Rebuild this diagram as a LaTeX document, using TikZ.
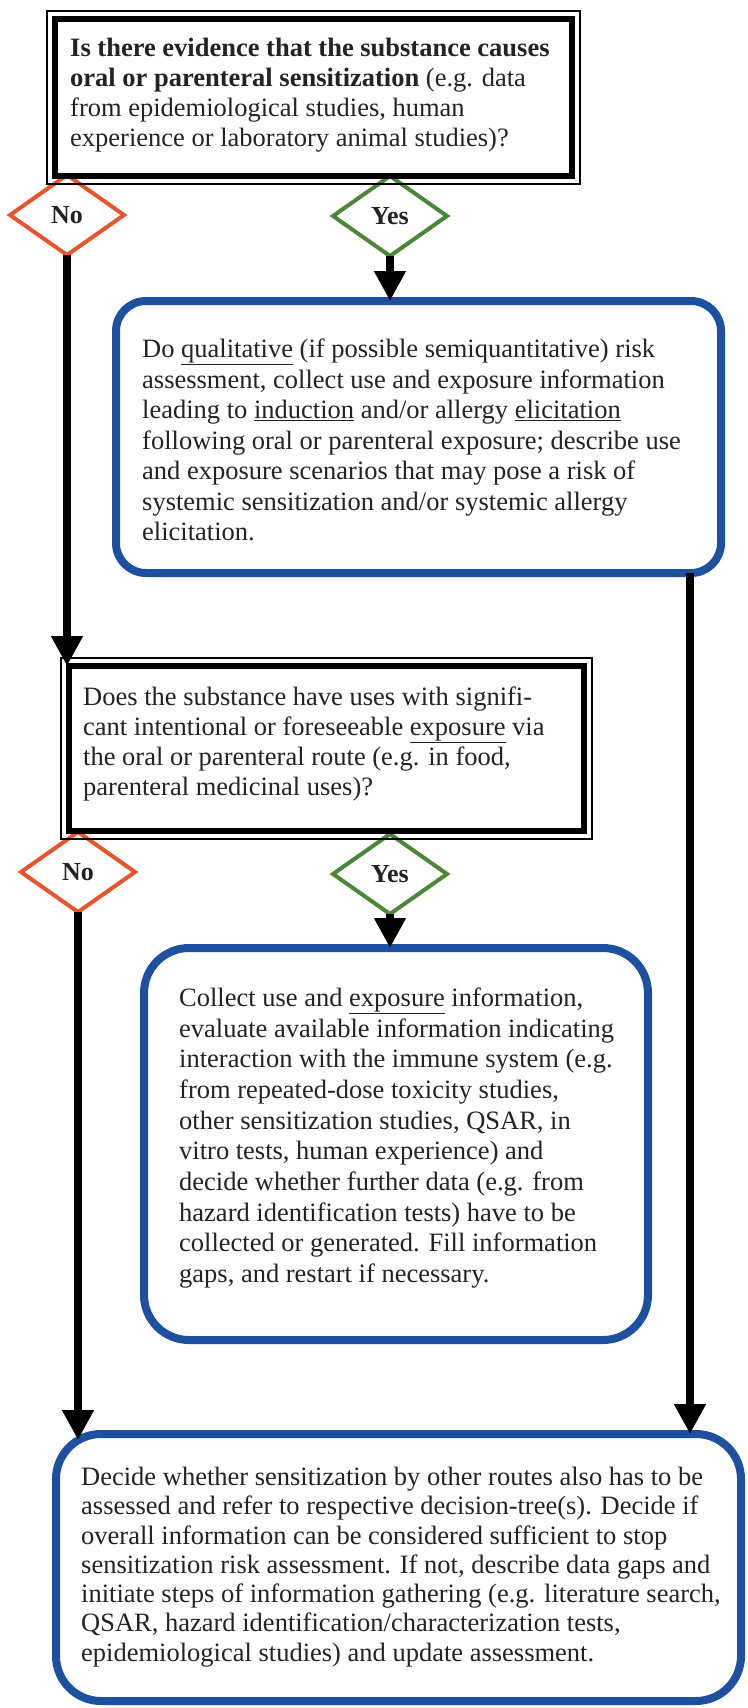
\documentclass[tikz,border=0pt]{standalone}
\usepackage{fontspec}
\setmainfont{Liberation Serif}
\usetikzlibrary{shapes.geometric,arrows.meta}
\definecolor{boxblue}{RGB}{30,80,160}
\definecolor{nored}{RGB}{230,85,45}
\definecolor{yesgreen}{RGB}{75,135,55}
\definecolor{txtcol}{RGB}{35,35,35}
\tikzset{
  qbox/.style={draw=black, line width=6pt, fill=white, inner sep=0pt, outer sep=0pt},
  abox/.style={draw=boxblue, line width=8pt, rounded corners=#1, fill=white, inner sep=0pt, outer sep=0pt},
  dia/.style={diamond, draw=#1, line width=4pt, fill=white, minimum width=114pt, minimum height=80pt, inner sep=0pt, outer sep=0pt, font=\fontsize{26}{30}\selectfont\bfseries, text=txtcol},
  conn/.style={draw=black, line width=8pt},
  arr/.style={conn, -{Triangle[width=30pt,length=30pt]}},
  txt/.style={anchor=west, align=left, inner sep=0pt, text=txtcol, font=\fontsize{26.5}{#1}\selectfont},
  frame/.style={draw=black, line width=1.5pt}
}
\begin{document}
\begin{tikzpicture}[x=1pt,y=1pt]
\useasboundingbox (0,0) rectangle (747,-1708);
\fill[white] (0,0) rectangle (747,-1708);

% diamonds
\node[dia=nored] (no1) at (67,-215) {No};
\node[dia=yesgreen] (yes1) at (390,-216) {Yes};
\node[dia=nored] (no2) at (78,-872) {No};
\node[dia=yesgreen] (yes2) at (390,-874) {Yes};

% question boxes
\node[qbox, minimum width=517pt, minimum height=157pt] (q1) at (313.5,-97.5) {};
\draw[frame] ([shift={(-8pt,8pt)}]q1.north west) rectangle ([shift={(8pt,-8pt)}]q1.south east);
\node[qbox, minimum width=515pt, minimum height=165pt] (q2) at (326.5,-748.5) {};
\draw[frame] ([shift={(-8pt,8pt)}]q2.north west) rectangle ([shift={(8pt,-8pt)}]q2.south east);

% action boxes
\node[abox=30pt, minimum width=605pt, minimum height=272pt] (b1) at (418.5,-437) {};
\node[abox=45pt, minimum width=504pt, minimum height=392pt] (b3) at (396,-1144) {};
\node[abox=45pt, minimum width=685pt, minimum height=267pt] (fin) at (398.5,-1567.5) {};

% texts
\node[txt=30] (t1) at (70,-95) {\textbf{Is there evidence that the substance causes}\\
\textbf{oral or parenteral sensitization} (e.g. data\\
from epidemiological studies, human\\
experience or laboratory animal studies)?};

\node[txt=30.5] (t2) at (142,-440) {Do \underline{qualitative} (if possible semiquantitative) risk\\
assessment, collect use and exposure information\\
leading to \underline{induction} and/or allergy \underline{elicitation}\\
following oral or parenteral exposure; describe use\\
and exposure scenarios that may pose a risk of\\
systemic sensitization and/or systemic allergy\\
elicitation.};

\node[txt=30] (t3) at (83,-744) {Does the substance have uses with signifi-\\
cant intentional or foreseeable \underline{exposure} via\\
the oral or parenteral route (e.g. in food,\\
parenteral medicinal uses)?};

\node[txt=30.7] (t4) at (179,-1138) {Collect use and \underline{exposure} information,\\
evaluate available information indicating\\
interaction with the immune system (e.g.\\
from repeated-dose toxicity studies,\\
other sensitization studies, QSAR, in\\
vitro tests, human experience) and\\
decide whether further data (e.g. from\\
hazard identification tests) have to be\\
collected or generated. Fill information\\
gaps, and restart if necessary.};

\node[txt=29.3] (t5) at (81,-1567) {Decide whether sensitization by other routes also has to be\\
assessed and refer to respective decision-tree(s). Decide if\\
overall information can be considered sufficient to stop\\
sensitization risk assessment. If not, describe data gaps and\\
initiate steps of information gathering (e.g. literature search,\\
QSAR, hazard identification/characterization tests,\\
epidemiological studies) and update assessment.};

% connectors
\draw[arr] (yes1.south) -- (yes1.south |- b1.north);
\draw[arr] (no1.south) -- (no1.south |- q2.north);
\draw[arr] (yes2.south) -- (yes2.south |- b3.north);
\draw[arr, shorten >=-6pt] (no2.south) -- (no2.south |- fin.north);
\coordinate (r1) at ([xshift=-31pt]b1.south east);
\draw[arr] (r1) -- (r1 |- fin.north);
\end{tikzpicture}
\end{document}
